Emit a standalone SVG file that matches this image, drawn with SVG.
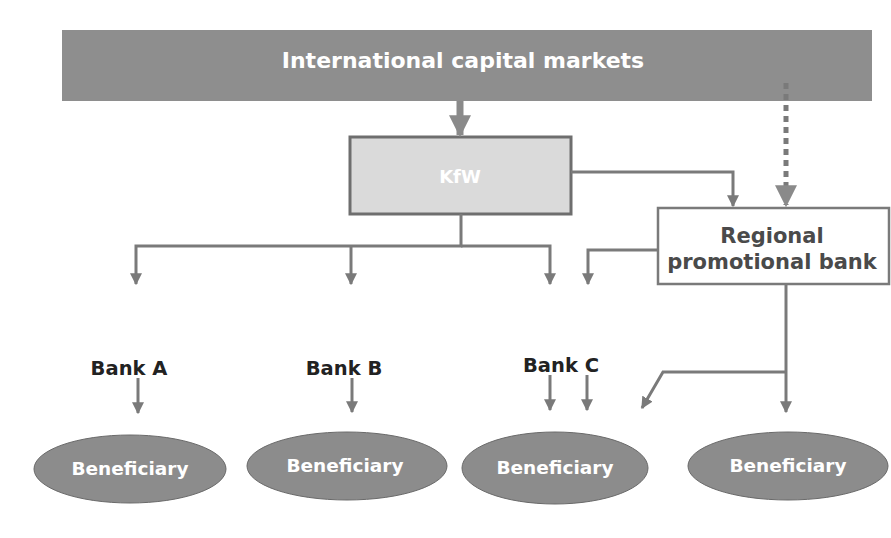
<svg xmlns="http://www.w3.org/2000/svg" width="891" height="538" viewBox="0 0 891 538">
<defs>
<marker id="ah" viewBox="0 0 10 10" refX="9" refY="5" markerWidth="12" markerHeight="12" markerUnits="userSpaceOnUse" orient="auto">
<path d="M0,0 L10,5 L0,10 Z" fill="#7a7a7a"/>
</marker>
<marker id="ahBig" viewBox="0 0 10 10" refX="9" refY="5" markerWidth="22" markerHeight="22" markerUnits="userSpaceOnUse" orient="auto">
<path d="M0,0 L10,5 L0,10 Z" fill="#8a8a8a"/>
</marker>
</defs>
<style>
.conn{fill:none;stroke:#7a7a7a;stroke-width:3}
.lbl{font-family:"DejaVu Sans","Open Sans",sans-serif;font-weight:bold;text-anchor:middle}
.wt{fill:#ffffff}
.bk{fill:#222222}
.ell{fill:#8c8c8c;stroke:#6a6a6a;stroke-width:1}
</style>
<rect width="891" height="538" fill="#ffffff"/>
<g id="markets">
<rect x="62" y="30" width="810" height="71" fill="#8e8e8e"/>
<text class="lbl wt" x="463" y="68" font-size="22">International capital markets</text>
</g>
<g id="kfw">
<rect x="350" y="137" width="221" height="77" fill="#dadada" stroke="#6e6e6e" stroke-width="3"/>
<text class="lbl wt" x="460" y="183" font-size="18">KfW</text>
</g>
<g id="regional">
<rect x="658" y="208" width="231" height="76" fill="#ffffff" stroke="#7a7a7a" stroke-width="2.5"/>
<text class="lbl" x="772" y="243" font-size="21" fill="#4a4a4a">Regional</text>
<text class="lbl" x="772" y="269" font-size="21" fill="#4a4a4a">promotional bank</text>
</g>
<g id="bankA"><text class="lbl bk" x="129" y="375" font-size="19.5">Bank A</text></g>
<g id="bankB"><text class="lbl bk" x="344" y="375" font-size="19.5">Bank B</text></g>
<g id="bankC"><text class="lbl bk" x="561" y="372" font-size="19.5">Bank C</text></g>
<g id="benA"><ellipse class="ell" cx="130" cy="469" rx="96" ry="34"/><text class="lbl wt" x="130" y="475" font-size="18.5">Beneficiary</text></g>
<g id="benB"><ellipse class="ell" cx="347" cy="466" rx="100" ry="34"/><text class="lbl wt" x="345" y="472" font-size="18.5">Beneficiary</text></g>
<g id="benC"><ellipse class="ell" cx="555" cy="468" rx="93" ry="36"/><text class="lbl wt" x="555" y="474" font-size="18.5">Beneficiary</text></g>
<g id="benD"><ellipse class="ell" cx="788" cy="466" rx="100" ry="34"/><text class="lbl wt" x="788" y="472" font-size="18.5">Beneficiary</text></g>
<g id="connectors">
<path d="M460,101 V135" fill="none" stroke="#8a8a8a" stroke-width="7" marker-end="url(#ahBig)"/>
<path d="M786,83 V205" fill="none" stroke="#7a7a7a" stroke-width="5" stroke-dasharray="6,5" marker-end="url(#ahBig)"/>
<path class="conn" d="M571,172 H733 V206" marker-end="url(#ah)"/>
<path class="conn" d="M461,214 V246 H136 V284" marker-end="url(#ah)"/>
<path class="conn" d="M351,246 V284" marker-end="url(#ah)"/>
<path class="conn" d="M461,246 H550 V284" marker-end="url(#ah)"/>
<path class="conn" d="M658,250 H588 V284" marker-end="url(#ah)"/>
<path class="conn" d="M138,378 V413" marker-end="url(#ah)"/>
<path class="conn" d="M352,378 V412" marker-end="url(#ah)"/>
<path class="conn" d="M550,375 V410" marker-end="url(#ah)"/>
<path class="conn" d="M587,375 V410" marker-end="url(#ah)"/>
<path class="conn" d="M786,284 V412" marker-end="url(#ah)"/>
<path class="conn" d="M786,372 H663 L642,408" marker-end="url(#ah)"/>
</g>
</svg>
